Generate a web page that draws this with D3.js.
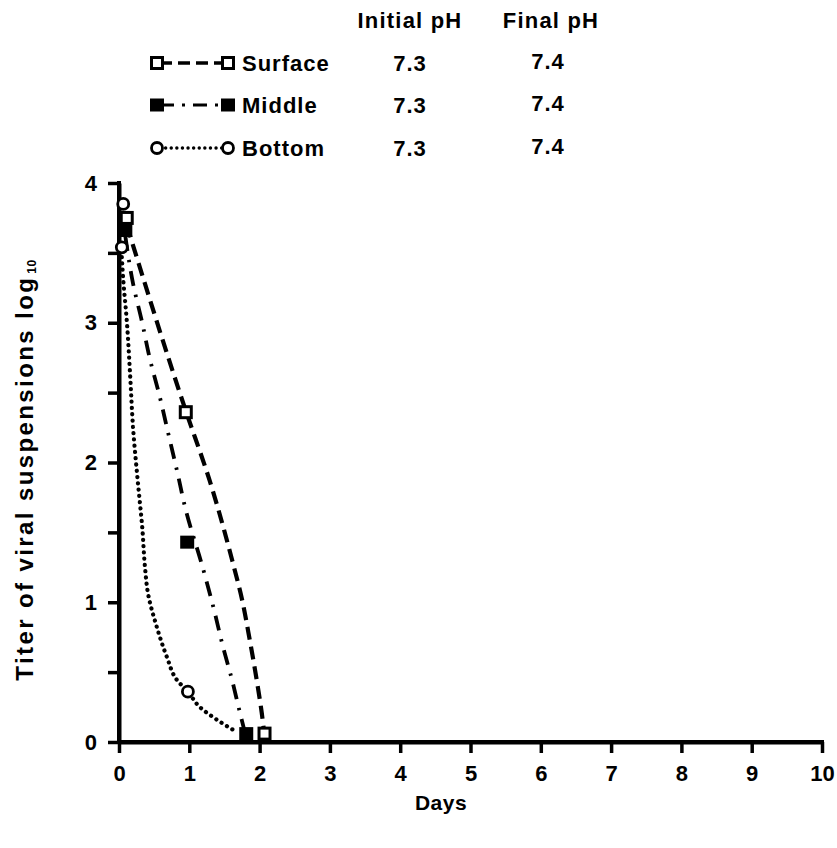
<!DOCTYPE html>
<html>
<head>
<meta charset="utf-8">
<script src="https://cdn.jsdelivr.net/npm/d3@7"></script>
<style>
  body { margin: 0; background: #fff; }
  text { font-family: "Liberation Sans", Arial, Helvetica, sans-serif; font-weight: 700; fill: #000; }
</style>
</head>
<body>
<svg id="chart" width="837" height="848"></svg>
<script>
// Measured titers (log10) per sampling depth: [day, titer]
const surfacePoints = [[0.11, 3.75], [0.95, 2.36], [2.07, 0.06]];
const middlePoints  = [[0.09, 3.66], [0.97, 1.43], [1.81, 0.06]];
const bottomPoints  = [[0.06, 3.85], [0.04, 3.54], [0.98, 0.36]];

// Hand-fitted decay curves drawn through each series: [day, titer]
const surfaceCurve = [[0.11, 3.70], [0.95, 2.37], [1.29, 1.87], [1.61, 1.30], [1.75, 1.02],
                      [1.86, 0.73], [1.96, 0.44], [2.03, 0.21], [2.06, 0.09]];
const middleCurve  = [[0.09, 3.62], [0.20, 3.28], [0.33, 3.00], [0.44, 2.74], [0.58, 2.47],
                      [0.70, 2.21], [0.83, 1.93], [0.94, 1.68], [1.19, 1.25], [1.34, 0.97],
                      [1.48, 0.68], [1.61, 0.44], [1.72, 0.21], [1.79, 0.07]];
const bottomCurve  = [[0.04, 3.47], [0.06, 3.31], [0.11, 3.02], [0.16, 2.61], [0.20, 2.25],
                      [0.27, 1.85], [0.33, 1.54], [0.37, 1.25], [0.41, 1.07], [0.54, 0.82],
                      [0.68, 0.61], [0.83, 0.44], [0.98, 0.36], [1.15, 0.25], [1.39, 0.16],
                      [1.68, 0.07]];

// Legend table
const seriesNames = ["Surface", "Middle", "Bottom"];
const initialPH = ["7.3", "7.3", "7.3"];
const finalPH   = ["7.4", "7.4", "7.4"];
const phHeaders = ["Initial pH", "Final pH"];

// Axis ticks
const xTicks = [0, 1, 2, 3, 4, 5, 6, 7, 8, 9, 10];
const yTicks = [0, 0.5, 1, 1.5, 2, 2.5, 3, 3.5, 4];
const xTitle = "Days";
const yTitle = "Titer of viral suspensions log";
const yTitleSub = "10";

const svg = d3.select("#chart");
const x = d3.scaleLinear().domain([0, 10]).range([119, 822]);
const y = d3.scaleLinear().domain([0, 4]).range([742, 183]);

// line styles per series
const styles = {
  Surface: { dash: "13 7", width: 4.2, cap: "butt" },
  Middle:  { dash: "15 9 2.5 9", width: 3.8, cap: "butt" },
  Bottom:  { dash: "0.1 6.2", width: 4.2, cap: "round" }
};

// Axes
const xAxis = svg.append("g")
  .attr("transform", `translate(0,${y(0)})`)
  .call(d3.axisBottom(x).tickValues(xTicks).tickSize(11).tickSizeOuter(0).tickPadding(12).tickFormat(d3.format("d")));
const yAxis = svg.append("g")
  .attr("transform", `translate(${x(0)},0)`)
  .call(d3.axisLeft(y).tickValues(yTicks).tickSize(11).tickSizeOuter(0).tickPadding(11)
    .tickFormat(d => Number.isInteger(d) ? d3.format("d")(d) : ""));

[xAxis, yAxis].forEach(g => {
  g.select(".domain").attr("stroke", "#000").attr("stroke-width", 4);
  g.selectAll(".tick line").attr("stroke", "#000").attr("stroke-width", 3.5);
  g.selectAll(".tick text").style("font-size", "22px").style("font-family", "'Liberation Sans', Arial, sans-serif").style("font-weight", 700);
});
// extend the axis lines slightly past the origin
svg.append("line").attr("x1", x(0) - 2).attr("x2", x(10) + 2).attr("y1", y(0)).attr("y2", y(0))
  .attr("stroke", "#000").attr("stroke-width", 4);
svg.append("line").attr("x1", x(0)).attr("x2", x(0)).attr("y1", y(4) - 2).attr("y2", y(0) + 2)
  .attr("stroke", "#000").attr("stroke-width", 4);

// Axis titles
svg.append("text").attr("x", 441).attr("y", 810).attr("text-anchor", "middle")
  .style("font-size", "21px").style("letter-spacing", "0.5px").text(xTitle);
const yt = svg.append("text").attr("transform", "translate(33,470) rotate(-90)")
  .attr("text-anchor", "middle").style("font-size", "24px").style("letter-spacing", "2.4px");
yt.append("tspan").text(yTitle);
yt.append("tspan").attr("dx", 2).attr("dy", 3).style("font-size", "12px").style("letter-spacing", "0.5px").text(yTitleSub);

// Curves
const line = d3.line().x(d => x(d[0])).y(d => y(d[1])).curve(d3.curveMonotoneY);
const curves = { Surface: surfaceCurve, Middle: middleCurve, Bottom: bottomCurve };
seriesNames.forEach(name => {
  const s = styles[name];
  svg.append("path").datum(curves[name]).attr("d", line)
    .attr("fill", "none").attr("stroke", "#000").attr("stroke-width", s.width)
    .attr("stroke-dasharray", s.dash).attr("stroke-linecap", s.cap);
});

// Markers
function marker(g, name, cx, cy) {
  if (name === "Surface") {
    g.append("rect").attr("x", cx - 5.5).attr("y", cy - 5.5).attr("width", 11).attr("height", 11)
      .attr("fill", "#fff").attr("stroke", "#000").attr("stroke-width", 3);
  } else if (name === "Middle") {
    g.append("rect").attr("x", cx - 7).attr("y", cy - 6.5).attr("width", 14).attr("height", 13)
      .attr("fill", "#000");
  } else {
    g.append("circle").attr("cx", cx).attr("cy", cy).attr("r", 5.5)
      .attr("fill", "#fff").attr("stroke", "#000").attr("stroke-width", 2.8);
  }
}
const points = { Surface: surfacePoints, Middle: middlePoints, Bottom: bottomPoints };
["Bottom", "Middle", "Surface"].forEach(name => {
  points[name].forEach(p => marker(svg, name, x(p[0]), y(p[1])));
});

// Legend
const legend = svg.append("g");
const colInit = 410, colFinal = 551;
legend.append("text").attr("x", colInit).attr("y", 28).attr("text-anchor", "middle")
  .style("font-size", "22px").style("letter-spacing", "1.2px").text(phHeaders[0]);
legend.append("text").attr("x", colFinal).attr("y", 28).attr("text-anchor", "middle")
  .style("font-size", "22px").style("letter-spacing", "1.2px").text(phHeaders[1]);
const rowY = [63, 105, 148];
seriesNames.forEach((name, i) => {
  const s = styles[name];
  const yy = rowY[i];
  legend.append("line").attr("x1", 160).attr("x2", 224).attr("y1", yy).attr("y2", yy)
    .attr("stroke", "#000").attr("stroke-width", s.width * 0.8)
    .attr("stroke-dasharray", name === "Surface" ? "12 6" : name === "Middle" ? "14 8 3 8" : "0.1 5.5")
    .attr("stroke-linecap", s.cap);
  marker(legend, name, 157, yy);
  marker(legend, name, 228, yy);
  legend.append("text").attr("x", 242).attr("y", yy + 8).style("font-size", "22px")
    .style("letter-spacing", "1px").text(name);
  legend.append("text").attr("x", colInit).attr("y", yy + 8).attr("text-anchor", "middle")
    .style("font-size", "22px").style("letter-spacing", "1px").text(initialPH[i]);
  legend.append("text").attr("x", colFinal - 3).attr("y", yy + 6).attr("text-anchor", "middle")
    .style("font-size", "22px").style("letter-spacing", "1px").text(finalPH[i]);
});
</script>
</body>
</html>
